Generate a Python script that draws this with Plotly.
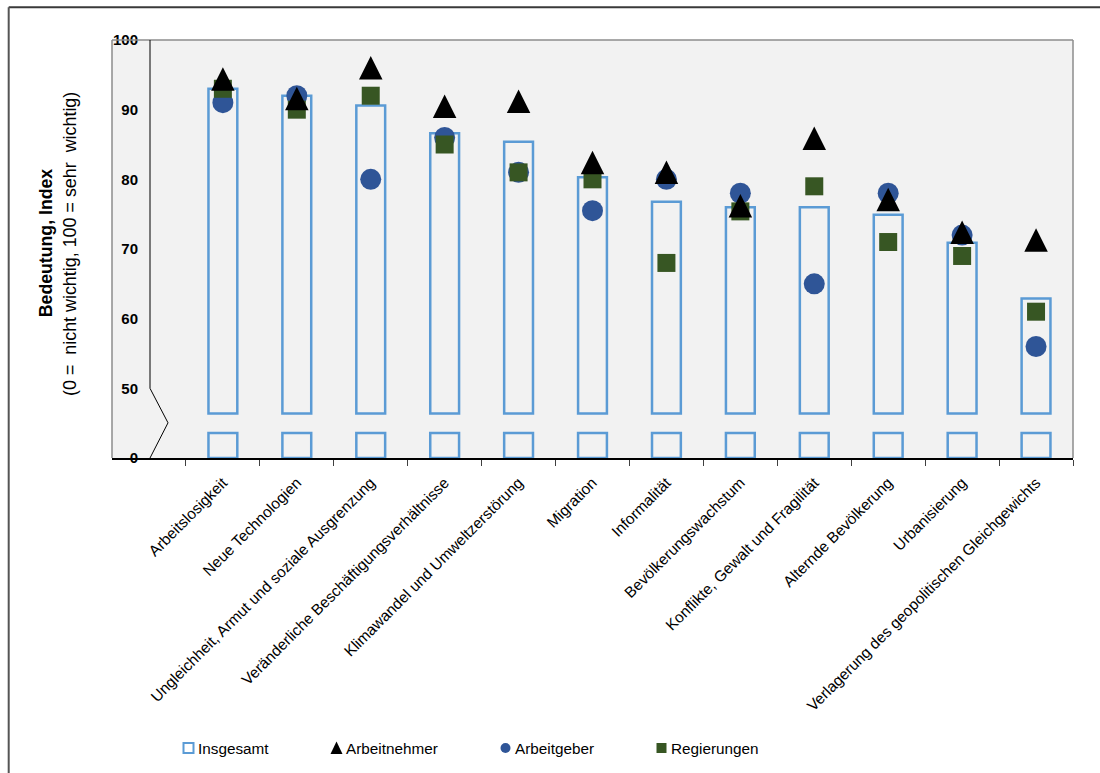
import plotly.graph_objects as go

# ---- data -------------------------------------------------------------
categories = [
    "Arbeitslosigkeit",
    "Neue Technologien",
    "Ungleichheit, Armut und soziale Ausgrenzung",
    "Veränderliche Beschäftigungsverhältnisse",
    "Klimawandel und Umweltzerstörung",
    "Migration",
    "Informalität",
    "Bevölkerungswachstum",
    "Konflikte, Gewalt und Fragilität",
    "Alternde Bevölkerung",
    "Urbanisierung",
    "Verlagerung des geopolitischen Gleichgewichts",
]
insgesamt = [93.0, 92.0, 90.6, 86.6, 85.4, 80.3, 76.8, 76.0, 76.0, 74.9, 70.9, 62.9]
arbeitnehmer = [94.4, 91.6, 96.0, 90.5, 91.2, 82.4, 81.0, 76.2, 85.9, 77.1, 72.4, 71.3]
arbeitgeber = [91.0, 92.0, 80.0, 86.0, 81.0, 75.5, 80.0, 78.0, 65.0, 78.0, 72.0, 56.0]
regierungen = [93.0, 90.0, 92.0, 85.0, 81.0, 80.0, 68.0, 75.4, 79.0, 71.0, 69.0, 61.0]

y_tick_values = [40, 50, 60, 70, 80, 90, 100]
y_tick_labels = ["0", "50", "60", "70", "80", "90", "100"]

series_names = ["Insgesamt", "Arbeitnehmer", "Arbeitgeber", "Regierungen"]

# ---- styling ----------------------------------------------------------
BLUE_LINE = "#5B9BD5"
CIRCLE_BLUE = "#2F5597"
SQUARE_GREEN = "#375623"
PLOT_BG = "#F2F2F2"
FONT = "Liberation Sans, Arial, sans-serif"

W, H = 1100, 773
PLOT_L, PLOT_R, PLOT_T, PLOT_B = 112, 1073, 40, 458

# broken value axis: the bottom tick stands for 0, the range 0..40 is cut out
AXIS_FLOOR, AXIS_TOP = 40, 100
BREAK_LOW, BREAK_HIGH = 43.6, 46.4
PX_PER_UNIT = (PLOT_B - PLOT_T) / (AXIS_TOP - AXIS_FLOOR)

TRI_SIZE = 23.5
TRI_SHIFT = (TRI_SIZE / 2) / PX_PER_UNIT  # arrow-up markers hang below their point


def paper_x(px):
    return (px - PLOT_L) / (PLOT_R - PLOT_L)


def paper_y(py):
    return (PLOT_B - py) / (PLOT_B - PLOT_T)


xpos = list(range(len(categories)))

fig = go.Figure()

# Insgesamt: hollow bars, split at the axis break
fig.add_trace(go.Bar(
    x=xpos, y=[v - BREAK_HIGH for v in insgesamt], base=BREAK_HIGH,
    width=0.39, name=series_names[0], showlegend=False,
    marker=dict(color="rgba(0,0,0,0)", line=dict(color=BLUE_LINE, width=2.5)),
))
fig.add_trace(go.Bar(
    x=xpos, y=[BREAK_LOW - AXIS_FLOOR] * len(xpos), base=AXIS_FLOOR,
    width=0.39, showlegend=False, hoverinfo="skip",
    marker=dict(color="rgba(0,0,0,0)", line=dict(color=BLUE_LINE, width=2.5)),
))

fig.add_trace(go.Scatter(
    x=xpos, y=arbeitnehmer, yaxis="y2", mode="markers", name=series_names[1],
    showlegend=False,
    marker=dict(symbol="arrow-up", size=TRI_SIZE, color="black", line=dict(width=0)),
))
fig.add_trace(go.Scatter(
    x=xpos, y=arbeitgeber, mode="markers", name=series_names[2], showlegend=False,
    marker=dict(symbol="circle", size=21, color=CIRCLE_BLUE, line=dict(width=0)),
))
fig.add_trace(go.Scatter(
    x=xpos, y=regierungen, mode="markers", name=series_names[3], showlegend=False,
    marker=dict(symbol="square", size=18, color=SQUARE_GREEN, line=dict(width=0)),
))

shapes = []
# plot frame (top, left, right); the bottom is the black category axis
for x0, y0, x1, y1 in [(0, 1, 1, 1), (0, 0, 0, 1), (1, 0, 1, 1)]:
    shapes.append(dict(type="line", xref="paper", yref="paper", x0=x0, y0=y0, x1=x1, y1=y1,
                       line=dict(color="#8C8C8C", width=1.5), layer="above"))

# value axis line with break mark
ax_x = -1.5 + (150 - PLOT_L) / ((PLOT_R - PLOT_L) / 13)
zig_x = -1.5 + (168 - PLOT_L) / ((PLOT_R - PLOT_L) / 13)
shapes.append(dict(
    type="path", xref="x", yref="y",
    path=f"M {ax_x},{AXIS_TOP} L {ax_x},50 L {zig_x},45.05 L {ax_x},{AXIS_FLOOR}",
    line=dict(color="black", width=1), layer="above",
))

# outer frame of the graphic
shapes.append(dict(type="line", xref="paper", yref="paper",
                   x0=paper_x(8.7), y0=paper_y(7.3), x1=paper_x(W), y1=paper_y(7.3),
                   line=dict(color="#3A3A3A", width=2), layer="above"))
shapes.append(dict(type="line", xref="paper", yref="paper",
                   x0=paper_x(8.7), y0=paper_y(7.3), x1=paper_x(8.7), y1=paper_y(H),
                   line=dict(color="#555555", width=2), layer="above"))

# legend row
LEG_Y = 748
annotations = []
legend_items = [
    (series_names[0], 188.5, 196),
    (series_names[1], 336.5, 344),
    (series_names[2], 505.5, 513),
    (series_names[3], 661.5, 669),
]
s = 5
cx = legend_items[0][1]
shapes.append(dict(type="rect", xref="paper", yref="paper",
                   x0=paper_x(cx - s), x1=paper_x(cx + s), y0=paper_y(LEG_Y - s), y1=paper_y(LEG_Y + s),
                   fillcolor="white", line=dict(color=BLUE_LINE, width=2), layer="above"))
cx = legend_items[1][1]
shapes.append(dict(type="path", xref="paper", yref="paper",
                   path=(f"M {paper_x(cx)},{paper_y(LEG_Y - 6.5)} "
                         f"L {paper_x(cx - 6)},{paper_y(LEG_Y + 6)} "
                         f"L {paper_x(cx + 6)},{paper_y(LEG_Y + 6)} Z"),
                   fillcolor="black", line=dict(width=0), layer="above"))
cx = legend_items[2][1]
shapes.append(dict(type="circle", xref="paper", yref="paper",
                   x0=paper_x(cx - s), x1=paper_x(cx + s), y0=paper_y(LEG_Y - s), y1=paper_y(LEG_Y + s),
                   fillcolor=CIRCLE_BLUE, line=dict(width=0), layer="above"))
cx = legend_items[3][1]
shapes.append(dict(type="rect", xref="paper", yref="paper",
                   x0=paper_x(cx - s), x1=paper_x(cx + s), y0=paper_y(LEG_Y - s), y1=paper_y(LEG_Y + s),
                   fillcolor=SQUARE_GREEN, line=dict(width=0), layer="above"))
for name, _, tx in legend_items:
    annotations.append(dict(
        text=name, xref="paper", yref="paper", x=paper_x(tx), y=paper_y(LEG_Y),
        xanchor="left", yanchor="middle", showarrow=False,
        font=dict(family=FONT, size=15.3, color="black"),
    ))

# value axis title (two lines)
annotations.append(dict(
    text="<b>Bedeutung, Index</b>", xref="paper", yref="paper",
    x=paper_x(45.7), y=paper_y(242.5), xanchor="center", yanchor="middle",
    textangle=-90, showarrow=False, font=dict(family=FONT, size=17.7, color="black"),
))
annotations.append(dict(
    text="(0 =  nicht wichtig, 100 = sehr  wichtig)", xref="paper", yref="paper",
    x=paper_x(70), y=paper_y(244), xanchor="center", yanchor="middle",
    textangle=-90, showarrow=False, font=dict(family=FONT, size=17.9, color="black"),
))

fig.update_layout(
    width=W, height=H, autosize=False,
    margin=dict(l=PLOT_L, r=W - PLOT_R, t=PLOT_T, b=H - PLOT_B, pad=0),
    paper_bgcolor="white", plot_bgcolor=PLOT_BG,
    barmode="overlay", showlegend=False,
    font=dict(family=FONT, color="black"),
    xaxis=dict(
        range=[-1.5, len(categories) - 0.5],
        tickmode="array", tickvals=xpos, ticktext=categories,
        tickangle=-45, ticks="", showgrid=False, zeroline=False,
        showline=True, linecolor="black", linewidth=1.5,
        tickfont=dict(family=FONT, size=15.4, color="black"),
        ticklabelstandoff=8,
        minor=dict(tickmode="array", tickvals=[i - 0.5 for i in range(len(categories) + 1)],
                   ticks="outside", ticklen=6, tickwidth=1, tickcolor="#404040", showgrid=False),
    ),
    yaxis=dict(
        range=[AXIS_FLOOR, AXIS_TOP],
        tickmode="array", tickvals=y_tick_values, ticktext=y_tick_labels,
        ticks="", showgrid=False, zeroline=False, showline=False,
        tickfont=dict(family=FONT, size=15, color="black", weight="bold"),
        ticklabelstandoff=-27,
    ),
    yaxis2=dict(
        overlaying="y", range=[AXIS_FLOOR - TRI_SHIFT, AXIS_TOP - TRI_SHIFT],
        visible=False,
    ),
    shapes=shapes,
    annotations=annotations,
)

fig.write_html("out.html")
